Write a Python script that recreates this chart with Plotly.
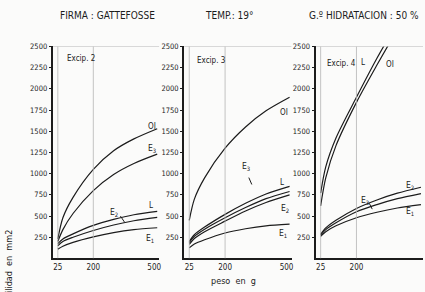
import plotly.graph_objects as go

W, H = 425, 292

# ---- data ----
peso = [25, 50, 100, 200, 300, 400, 515]          # g
peso_short = [25, 50, 100, 200, 300, 400]

# Excip. 2
ex2_OI = [230, 480, 720, 1050, 1270, 1410, 1530]
ex2_E3 = [200, 340, 530, 800, 990, 1120, 1230]
ex2_L  = [175, 230, 290, 390, 460, 515, 555]
ex2_E2 = [150, 200, 250, 330, 395, 445, 485]
ex2_E1 = [110, 145, 190, 255, 305, 340, 362]

# Excip. 3
ex3_OI = [450, 700, 950, 1300, 1550, 1740, 1900]
ex3_L  = [200, 280, 370, 520, 650, 760, 850]
ex3_E3 = [185, 260, 345, 480, 600, 705, 790]
ex3_E2 = [165, 235, 315, 440, 560, 660, 750]
ex3_E1 = [125, 170, 220, 300, 350, 385, 405]

# Excip. 4
ex4_L  = [770, 1080, 1420, 1900, 2360, 2780]
ex4_OI = [620, 950, 1330, 1840, 2280, 2700]
ex4_E2 = [285, 360, 450, 590, 690, 770, 840]
ex4_E3 = [275, 340, 420, 550, 635, 705, 765]
ex4_E1 = [260, 315, 385, 480, 545, 595, 635]

y_ticks = [250, 500, 750, 1000, 1250, 1500, 1750, 2000, 2250, 2500]
x_ticks = [25, 200, 500]
grid_x = [25, 200]
panel_titles = ["Excip. 2", "Excip. 3", "Excip. 4"]

FONT = "DejaVu Sans Condensed"
INK = "#1c1c1c"

def px(x):
    return x / W

def py(y):
    return 1 - y / H

fig = go.Figure()

panels = [
    ("x", "y", [(ex2_OI, peso), (ex2_E3, peso), (ex2_L, peso), (ex2_E2, peso), (ex2_E1, peso)]),
    ("x2", "y2", [(ex3_OI, peso), (ex3_L, peso), (ex3_E3, peso), (ex3_E2, peso), (ex3_E1, peso)]),
    ("x3", "y3", [(ex4_L, peso_short), (ex4_OI, peso_short), (ex4_E2, peso), (ex4_E3, peso), (ex4_E1, peso)]),
]
for xr, yr, series in panels:
    for vals, xs in series:
        fig.add_trace(go.Scatter(x=xs, y=vals, mode="lines", xaxis=xr, yaxis=yr,
                                 line=dict(color=INK, width=1.2, shape="spline", smoothing=0.8),
                                 showlegend=False, hoverinfo="skip"))

x_domains = [[px(53), px(160)], [px(185), px(293)], [px(317), px(425)]]
y_dom = [py(258), py(43)]

layout_axes = {}
for i, dom in enumerate(x_domains):
    sfx = "" if i == 0 else str(i + 1)
    layout_axes["xaxis" + sfx] = dict(
        domain=dom, range=[0, 525], tickvals=x_ticks, ticktext=[str(t) for t in x_ticks],
        showgrid=False, zeroline=False, showline=True, linecolor=INK, linewidth=2,
        ticks="", tickfont=dict(family=FONT, size=8, color=INK),
        anchor="y" + sfx, fixedrange=True)
    layout_axes["yaxis" + sfx] = dict(
        domain=y_dom, range=[0, 2500], tickvals=y_ticks, ticktext=[str(t) for t in y_ticks],
        showgrid=False, zeroline=False, showline=True, linecolor=INK, linewidth=2,
        ticks="outside", ticklen=2, tickcolor=INK, ticklabelstandoff=0,
        tickfont=dict(family=FONT, size=7.5, color=INK),
        anchor="x" + sfx, fixedrange=True)

shapes = []
for i in range(3):
    sfx = "" if i == 0 else str(i + 1)
    for gx in grid_x:
        shapes.append(dict(type="line", xref="x" + sfx, yref="y" + sfx, x0=gx, x1=gx, y0=0, y1=2500,
                           line=dict(color="#b5b5b5", width=0.8)))
    shapes.append(dict(type="line", xref="x" + sfx, yref="y" + sfx, x0=0, x1=525, y0=2500, y1=2500,
                       line=dict(color="#9a9a9a", width=0.8)))

ann = []
def t(x, y, s, size=8.5, **kw):
    d = dict(x=px(x), y=py(y), xref="paper", yref="paper", text=s, showarrow=False,
             xanchor="center", yanchor="middle",
             font=dict(family=FONT, size=size, color=INK))
    d.update(kw)
    ann.append(d)

# header
t(108, 12, "FIRMA : GATTEFOSSE", 10)
t(231, 12, "TEMP.: 19°", 10)
t(366, 12, "G.º HIDRATACION : 50 %", 10)

# panel titles
t(81, 55, panel_titles[0], 8)
t(212, 57, panel_titles[1], 8)
t(343, 60, panel_titles[2], 8)

# curve labels panel 1
t(153, 124, "OI", 8)
t(153, 147, "E<sub>3</sub>", 8.5)
t(152, 204, "L", 8)
t(115, 211, "E<sub>2</sub>", 8.5)
t(151, 238, "E<sub>1</sub>", 8.5)
# panel 2
t(285, 110, "OI", 8)
t(283, 181, "L", 8)
t(247, 165, "E<sub>3</sub>", 8.5)
t(286, 207, "E<sub>2</sub>", 8.5)
t(284, 233, "E<sub>1</sub>", 8.5)
# panel 3
t(365, 59, "L", 8)
t(392, 61, "OI", 8)
t(367, 199, "E<sub>3</sub>", 8.5)
t(412, 184, "E<sub>2</sub>", 8.5)
t(412, 210, "E<sub>1</sub>", 8.5)

# small leader marks
for (x0, y0, x1, y1) in [(121, 215, 125, 221), (250, 176, 253, 183), (371, 202, 374, 208)]:
    shapes.append(dict(type="line", xref="paper", yref="paper", x0=px(x0), y0=py(y0),
                       x1=px(x1), y1=py(y1), line=dict(color=INK, width=1)))

# axis titles
t(235, 281, "peso  en  g", 9)
ann.append(dict(x=px(9), y=py(227), xref="paper", yref="paper", text="Extensibilidad  en  mm2",
                textangle=-90, showarrow=False, xanchor="center", yanchor="top",
                font=dict(family=FONT, size=9, color=INK)))

fig.update_layout(width=W, height=H, margin=dict(l=0, r=0, t=0, b=0),
                  paper_bgcolor="#fbfbfa", plot_bgcolor="#fbfbfa",
                  shapes=shapes, annotations=ann, **layout_axes)

fig.write_html("out.html", config={"displayModeBar": False},
               post_script="document.body.style.margin='0';document.body.style.overflow='hidden';")
